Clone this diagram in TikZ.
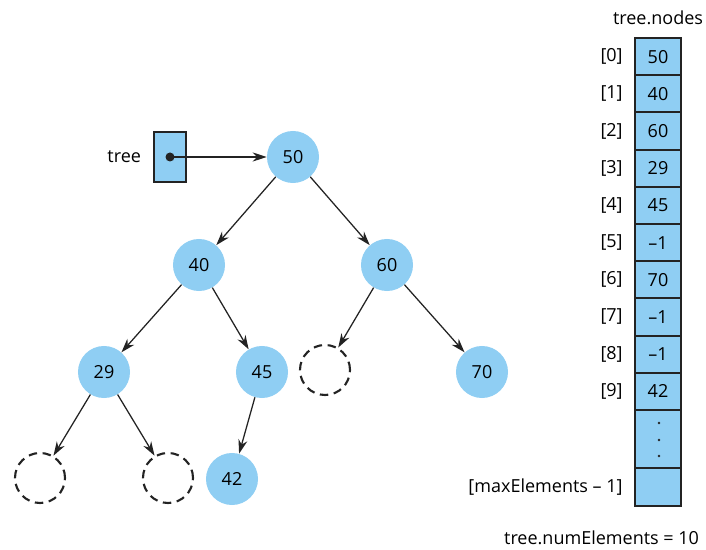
\documentclass[tikz,border=0pt]{standalone}
\usepackage{fontspec}
\setmainfont{Open Sans}
\usetikzlibrary{arrows.meta}
\definecolor{nodeblue}{RGB}{143,206,243}
\definecolor{inkgray}{RGB}{35,35,35}

\begin{document}
\begin{tikzpicture}[x=0.025cm,y=-0.025cm,
    font=\fontsize{12.8}{15}\selectfont,
    treenode/.style={circle,fill=nodeblue,minimum size=1.3cm,inner sep=0pt},
    emptynode/.style={circle,draw=inkgray,dash pattern=on 6pt off 4pt,line width=1.5pt,minimum size=1.25cm,inner sep=0pt},
    link/.style={-{Stealth[length=10pt,width=6.5pt]},draw=inkgray,line width=0.9pt},
    cell/.style={draw=inkgray,fill=nodeblue,line width=1.4pt,minimum width=1.15cm,minimum height=0.93cm,inner sep=0pt}]
  \useasboundingbox (0,0) rectangle (706,550);
  % pointer variable
  \node[draw=inkgray,fill=nodeblue,line width=1.4pt,minimum width=0.8cm,minimum height=1.25cm,inner sep=0pt] (ptr) at (170,157) {};
  \node[anchor=east] (ptrlbl) at (146,157) {tree};
  \fill[inkgray] (ptr.center) circle (4.5);
  % tree nodes (pixel positions of the reference)
  \node[treenode] (n50) at (293,157) {50};
  \node[treenode] (n40) at (199,265) {40};
  \node[treenode] (n60) at (387,265) {60};
  \node[treenode] (n29) at (104,372) {29};
  \node[treenode] (n45) at (262,372) {45};
  \node[treenode] (n70) at (482,372) {70};
  \node[treenode] (n42) at (232,479) {42};
  % empty slots
  \node[emptynode] (e60) at (325,370) {};
  \node[emptynode] (e29a) at (40,478) {};
  \node[emptynode] (e29b) at (168,478) {};
  % links
  \draw[link] (ptr.center) -- (n50);
  \draw[link] (n50) -- (n40);
  \draw[link] (n50) -- (n60);
  \draw[link] (n40) -- (n29);
  \draw[link] (n40) -- (n45);
  \draw[link] (n60) -- (e60);
  \draw[link] (n60) -- (n70);
  \draw[link] (n29) -- (e29a);
  \draw[link] (n29) -- (e29b);
  \draw[link] (n45) -- (n42);
  % array tree.nodes: cell i centred at 56.6+37.2*i
  \node (arrtitle) at (658,18) {tree.nodes};
  \foreach \i/\v in {0/50,1/40,2/60,3/29,4/45,5/--1,6/70,7/--1,8/--1,9/42} {
    \node[cell] (c\i) at (658,{56.6+37.2*\i}) {\v};
    \node[anchor=east] (l\i) at ([xshift=-0.16cm]c\i.west) {[\i]};
  }
  \node[cell,minimum height=1.45cm] (cdots) at (658,439) {};
  \node[cell,minimum height=0.95cm] (clast) at (658,487) {};
  \foreach \y in {423,440,456}
    \fill[inkgray] (659,\y) circle (1.3);
  \node[anchor=east] (llast) at ([xshift=-0.16cm]clast.west) {[maxElements -- 1]};
  \node[anchor=east] (count) at (704,538) {tree.numElements = 10};
\end{tikzpicture}
\end{document}
